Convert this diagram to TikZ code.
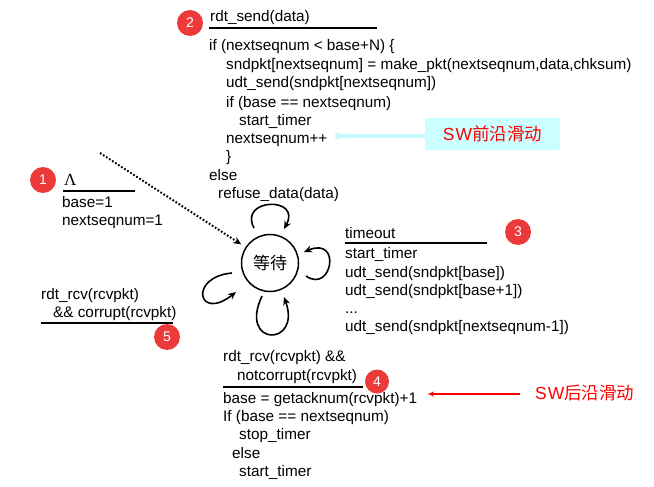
\documentclass[tikz,border=0pt]{standalone}
\usepackage{fontspec}
\setmainfont{Liberation Sans}
\newfontfamily\cjk{Noto Sans CJK SC}
\newfontfamily\lamfont{Liberation Serif}
\usetikzlibrary{arrows.meta}
\definecolor{badgered}{RGB}{236,58,58}
\definecolor{swcyan}{RGB}{204,255,255}
\definecolor{swline}{RGB}{196,248,248}
\definecolor{swred}{RGB}{255,0,0}
\begin{document}
\begin{tikzpicture}[x=1pt,y=-1pt,
  code/.style={anchor=base west,inner sep=0pt,font=\fontsize{15.3}{18}\selectfont},
  badge/.style={circle,fill=badgered,text=white,minimum size=26pt,inner sep=0pt,font=\fontsize{14}{14}\selectfont},
  rulebar/.style={line width=2pt},
  loopline/.style={line width=1.6pt,-{Stealth[length=8pt,width=7pt]}},
  swlabel/.style={inner sep=0pt,text=swred,font=\fontsize{17.5}{20}\selectfont},
]
\useasboundingbox (0,0) rectangle (654,487);

% state
\node[circle,draw,line width=1.5pt,minimum size=57pt,inner sep=0pt,font=\fontsize{17}{17}\selectfont\cjk] (wait) at (270,263) {等待};

% block 1
\node[badge] (b1) at (43,180) {1};
\node[anchor=base west,inner sep=0pt,font=\fontsize{17}{17}\selectfont\lamfont] (lam) at (64,185) {Λ};
\coordinate (u1a) at (63,191); \coordinate (u1b) at (135,191);
\draw[rulebar] (u1a) -- (u1b);
\node[code] (t1a) at (62,207) {base=1};
\node[code] (t1b) at (62,225) {nextseqnum=1};
\coordinate (initstart) at (100,153);
\draw[line width=2pt,dash pattern=on 1.7pt off 1.9pt,-{Stealth[length=8pt,width=7pt]},shorten >=5pt] (initstart) -- (wait);

% block 2
\node[badge] (b2) at (190,23) {2};
\node[code] (t2a) at (210,22) {rdt\_send(data)};
\coordinate (u2a) at (209,28.5); \coordinate (u2b) at (377,28.5);
\draw[rulebar] (u2a) -- (u2b);
\node[code] (t2b) at (209,51) {if (nextseqnum < base+N) \{};
\node[code] (t2c) at (226,70) {sndpkt[nextseqnum] = make\_pkt(nextseqnum,data,chksum)};
\node[code] (t2d) at (226,88) {udt\_send(sndpkt[nextseqnum])};
\node[code] (t2e) at (226,107) {if (base == nextseqnum)};
\node[code] (t2f) at (239,125) {start\_timer};
\node[code] (t2g) at (226,143) {nextseqnum++};
\node[code] (t2h) at (226,161) {\}};
\node[code] (t2i) at (209,180) {else};
\node[code] (t2j) at (218,198) {refuse\_data(data)};

% SW front box
\node[fill=swcyan,rounded corners=1.5pt,minimum width=135pt,minimum height=32pt,inner sep=0pt] (swbox) at (492.5,134) {};
\node[swlabel] (swtext1) at (swbox.center) {S\kern1pt W{\cjk 前沿滑动}};
\coordinate (swdot) at (338,136);
\draw[swline,line width=4.5pt] (swdot) -- (swbox.west |- swdot);
\fill[swline] (swdot) circle (3.2pt);

% block 3
\node[badge] (b3) at (518,232) {3};
\node[code] (t3a) at (345,238) {timeout};
\coordinate (u3a) at (345,242.5); \coordinate (u3b) at (487,242.5);
\draw[rulebar] (u3a) -- (u3b);
\node[code] (t3b) at (345,258) {start\_timer};
\node[code] (t3c) at (345,277) {udt\_send(sndpkt[base])};
\node[code] (t3d) at (345,295) {udt\_send(sndpkt[base+1])};
\node[code] (t3e) at (345,313) {...};
\node[code] (t3f) at (345,331) {udt\_send(sndpkt[nextseqnum-1])};

% block 5
\node[code] (t5a) at (41,299) {rdt\_rcv(rcvpkt)};
\node[code] (t5b) at (53,317) {\&\& corrupt(rcvpkt)};
\coordinate (u5a) at (41,323); \coordinate (u5b) at (173,323);
\draw[rulebar] (u5a) -- (u5b);
\node[badge] (b5) at (167,337) {5};

% block 4
\node[code] (t4a) at (223,361) {rdt\_rcv(rcvpkt) \&\&};
\node[code] (t4b) at (237,380) {notcorrupt(rcvpkt)};
\coordinate (u4a) at (223,387); \coordinate (u4b) at (363,387);
\draw[rulebar] (u4a) -- (u4b);
\node[code] (t4c) at (223,403) {base = getacknum(rcvpkt)+1};
\node[badge,minimum size=24pt] (b4) at (377,381.5) {4};
\node[code] (t4d) at (223,421) {If (base == nextseqnum)};
\node[code] (t4e) at (239,439) {stop\_timer};
\node[code] (t4f) at (232,458) {else};
\node[code] (t4g) at (239,476) {start\_timer};
\node[swlabel,anchor=west] (swtext2) at (535,393) {S\kern1pt W{\cjk 后沿滑动}};
\coordinate (rarrow) at (428,394);
\draw[swred,line width=2pt,-{Stealth[length=6pt,width=5pt]}] (swtext2.west |- rarrow) ++(-15,0) coordinate (rtail) -- (rarrow);

% self loops
\coordinate (ltop1) at (254,228); \coordinate (ltop2) at (284,229);
\draw[loopline] (ltop1) .. controls (238,198) and (302,196) .. (ltop2);
\coordinate (lr1) at (306,276); \coordinate (lr2) at (304,252);
\draw[loopline] (lr1) .. controls (332,294) and (342,236) .. (lr2);
\coordinate (lb1) at (262,296); \coordinate (lb2) at (284,297);
\draw[loopline] (lb1) .. controls (238,347) and (302,347) .. (lb2);
\coordinate (ll1) at (232,273); \coordinate (ll2) at (236,292);
\draw[loopline] (ll1) .. controls (188,277) and (198,322) .. (ll2);
\end{tikzpicture}
\end{document}
